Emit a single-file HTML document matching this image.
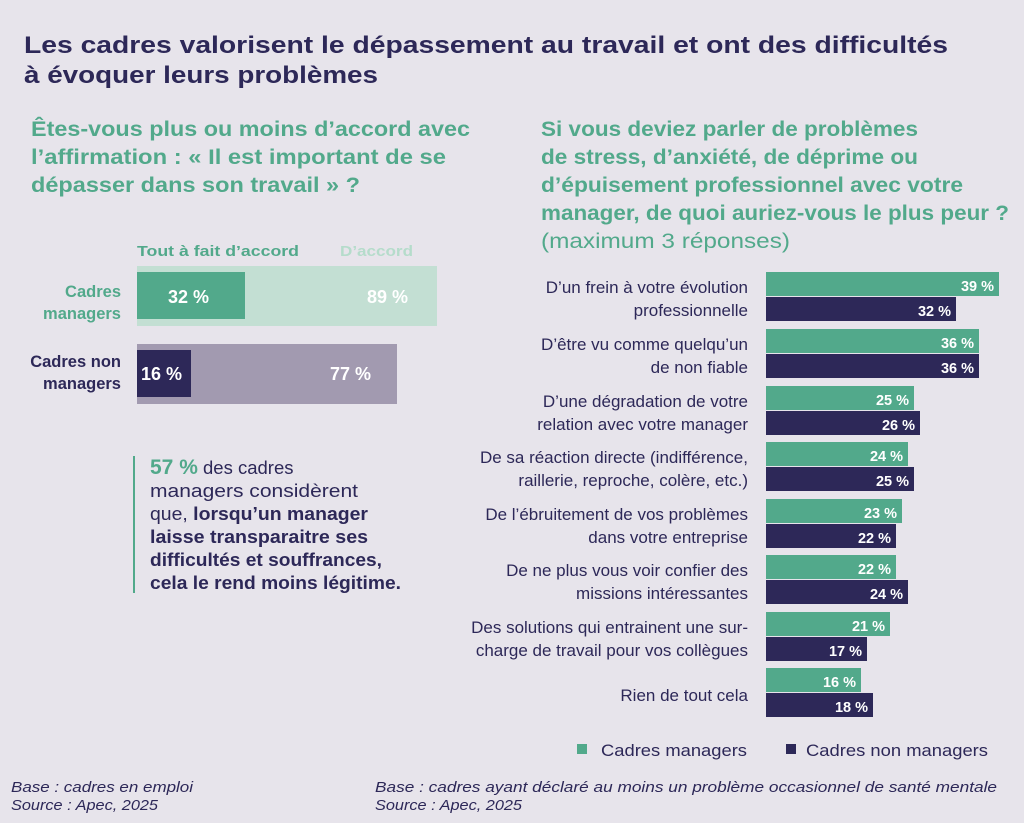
<!DOCTYPE html>
<html><head><meta charset="utf-8"><style>
html,body{margin:0;padding:0;background:#e7e4eb;}
svg{display:block;}
text{font-family:"Liberation Sans",sans-serif;}
</style></head><body>
<svg width="1024" height="823" viewBox="0 0 1024 823" xmlns="http://www.w3.org/2000/svg">
<rect width="1024" height="823" fill="#e7e4eb"/>
<g fill="#2d2858" font-weight="bold" font-size="24">
<text x="24" y="53" textLength="924" lengthAdjust="spacingAndGlyphs">Les cadres valorisent le dépassement au travail et ont des difficultés</text>
<text x="24" y="83" textLength="354" lengthAdjust="spacingAndGlyphs">à évoquer leurs problèmes</text>
</g>
<g fill="#52a98b" font-weight="bold" font-size="21">
<text x="31" y="136" textLength="439" lengthAdjust="spacingAndGlyphs">Êtes-vous plus ou moins d’accord avec</text>
<text x="31" y="164" textLength="415" lengthAdjust="spacingAndGlyphs">l’affirmation : « Il est important de se</text>
<text x="31" y="192" textLength="329" lengthAdjust="spacingAndGlyphs">dépasser dans son travail » ?</text>
<text x="541" y="136" textLength="377" lengthAdjust="spacingAndGlyphs">Si vous deviez parler de problèmes</text>
<text x="541" y="164" textLength="377" lengthAdjust="spacingAndGlyphs">de stress, d’anxiété, de déprime ou</text>
<text x="541" y="192" textLength="422" lengthAdjust="spacingAndGlyphs">d’épuisement professionnel avec votre</text>
<text x="541" y="220" textLength="468" lengthAdjust="spacingAndGlyphs">manager, de quoi auriez-vous le plus peur ?</text>
<text x="541" y="248" font-weight="normal" textLength="249" lengthAdjust="spacingAndGlyphs">(maximum 3 réponses)</text>
</g>
<!-- left chart -->
<text x="137" y="256" font-size="15" font-weight="bold" fill="#52a98b" textLength="162" lengthAdjust="spacingAndGlyphs">Tout à fait d’accord</text>
<text x="340" y="256" font-size="15" font-weight="bold" fill="#b5dccb" textLength="73" lengthAdjust="spacingAndGlyphs">D’accord</text>
<rect x="137" y="266" width="300" height="60" fill="#c3dfd3"/>
<rect x="137" y="272" width="108" height="47" fill="#52a98b"/>
<rect x="137" y="344" width="260" height="60" fill="#a29ab0"/>
<rect x="137" y="350" width="54" height="47" fill="#2d2858"/>
<g font-size="16.5" font-weight="bold" text-anchor="end">
<text x="121" y="297" fill="#52a98b">Cadres</text>
<text x="121" y="319" fill="#52a98b">managers</text>
<text x="121" y="367" fill="#2d2858">Cadres non</text>
<text x="121" y="389" fill="#2d2858">managers</text>
</g>
<g font-size="18" font-weight="bold" fill="#fff">
<text x="168" y="303">32 %</text>
<text x="367" y="303">89 %</text>
<text x="141" y="380">16 %</text>
<text x="330" y="380">77 %</text>
</g>
<rect x="133" y="456" width="2" height="137" fill="#52a98b"/>
<g font-size="18.5" fill="#2d2858">
<text x="150" y="474"><tspan font-weight="bold" fill="#52a98b" font-size="21">57 %</tspan> des cadres</text>
<text x="150" y="497" textLength="208" lengthAdjust="spacingAndGlyphs">managers considèrent</text>
<text x="150" y="520" textLength="218" lengthAdjust="spacingAndGlyphs">que, <tspan font-weight="bold">lorsqu’un manager</tspan></text>
<text x="150" y="543" font-weight="bold" textLength="218" lengthAdjust="spacingAndGlyphs">laisse transparaitre ses</text>
<text x="150" y="566" font-weight="bold" textLength="232" lengthAdjust="spacingAndGlyphs">difficultés et souffrances,</text>
<text x="150" y="589" font-weight="bold" textLength="251" lengthAdjust="spacingAndGlyphs">cela le rend moins légitime.</text>
</g>
<!-- right chart -->
<g font-size="17" fill="#2d2858" text-anchor="end">
<text x="748" y="293">D’un frein à votre évolution</text><text x="748" y="316">professionnelle</text>
<text x="748" y="350">D’être vu comme quelqu’un</text><text x="748" y="373">de non fiable</text>
<text x="748" y="407">D’une dégradation de votre</text><text x="748" y="430">relation avec votre manager</text>
<text x="748" y="463">De sa réaction directe (indifférence,</text><text x="748" y="486">raillerie, reproche, colère, etc.)</text>
<text x="748" y="520">De l’ébruitement de vos problèmes</text><text x="748" y="543">dans votre entreprise</text>
<text x="748" y="576">De ne plus vous voir confier des</text><text x="748" y="599">missions intéressantes</text>
<text x="748" y="633">Des solutions qui entrainent une sur-</text><text x="748" y="656">charge de travail pour vos collègues</text>
<text x="748" y="701">Rien de tout cela</text>
</g>
<g>
<rect x="766" y="272" width="233" height="24" fill="#52a98b"/><rect x="766" y="297" width="190" height="24" fill="#2d2858"/>
<rect x="766" y="329" width="213" height="24" fill="#52a98b"/><rect x="766" y="354" width="213" height="24" fill="#2d2858"/>
<rect x="766" y="386" width="148" height="24" fill="#52a98b"/><rect x="766" y="411" width="154" height="24" fill="#2d2858"/>
<rect x="766" y="442" width="142" height="24" fill="#52a98b"/><rect x="766" y="467" width="148" height="24" fill="#2d2858"/>
<rect x="766" y="499" width="136" height="24" fill="#52a98b"/><rect x="766" y="524" width="130" height="24" fill="#2d2858"/>
<rect x="766" y="555" width="130" height="24" fill="#52a98b"/><rect x="766" y="580" width="142" height="24" fill="#2d2858"/>
<rect x="766" y="612" width="124" height="24" fill="#52a98b"/><rect x="766" y="637" width="101" height="24" fill="#2d2858"/>
<rect x="766" y="668" width="95" height="24" fill="#52a98b"/><rect x="766" y="693" width="107" height="24" fill="#2d2858"/>
</g>
<g font-size="14.5" font-weight="bold" fill="#fff" text-anchor="end">
<text x="994" y="291">39 %</text><text x="951" y="316">32 %</text>
<text x="974" y="348">36 %</text><text x="974" y="373">36 %</text>
<text x="909" y="405">25 %</text><text x="915" y="430">26 %</text>
<text x="903" y="461">24 %</text><text x="909" y="486">25 %</text>
<text x="897" y="518">23 %</text><text x="891" y="543">22 %</text>
<text x="891" y="574">22 %</text><text x="903" y="599">24 %</text>
<text x="885" y="631">21 %</text><text x="862" y="656">17 %</text>
<text x="856" y="687">16 %</text><text x="868" y="712">18 %</text>
</g>
<rect x="577" y="744" width="10" height="10" fill="#52a98b"/>
<text x="601" y="756" font-size="16.5" fill="#2d2858" textLength="146" lengthAdjust="spacingAndGlyphs">Cadres managers</text>
<rect x="786" y="744" width="10" height="10" fill="#2d2858"/>
<text x="806" y="756" font-size="16.5" fill="#2d2858" textLength="182" lengthAdjust="spacingAndGlyphs">Cadres non managers</text>
<g font-size="14.5" font-style="italic" fill="#2d2858">
<text x="11" y="792" textLength="182" lengthAdjust="spacingAndGlyphs">Base : cadres en emploi</text>
<text x="11" y="810" textLength="147" lengthAdjust="spacingAndGlyphs">Source : Apec, 2025</text>
<text x="375" y="792" textLength="622" lengthAdjust="spacingAndGlyphs">Base : cadres ayant déclaré au moins un problème occasionnel de santé mentale</text>
<text x="375" y="810" textLength="147" lengthAdjust="spacingAndGlyphs">Source : Apec, 2025</text>
</g>
</svg>
</body></html>
